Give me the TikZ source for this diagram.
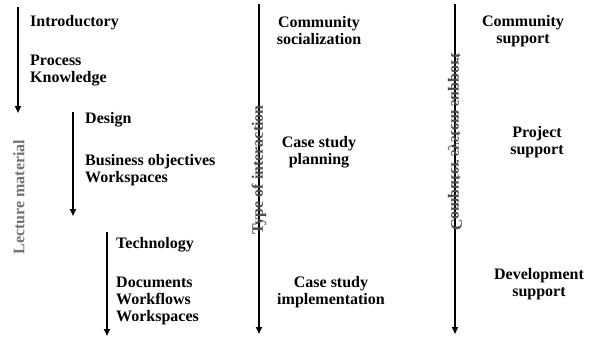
\documentclass[tikz,border=0pt]{standalone}
\usepackage{fontspec}
\setmainfont{Liberation Serif}
\usetikzlibrary{arrows.meta}

\tikzset{
  item/.style={font=\fontsize{16}{17}\selectfont\bfseries, inner sep=0pt, align=left, anchor=north west},
  cell/.style={font=\fontsize{16}{17}\selectfont\bfseries, inner sep=0pt, align=center, anchor=north},
  axis/.style={line width=2.4pt, -{Triangle[length=7pt,width=6pt]}},
  axislabel/.style={font=\fontsize{16}{17}\selectfont\bfseries, inner sep=0pt}
}

\begin{document}
\begin{tikzpicture}[x=1pt, y=-1pt]
\useasboundingbox (0,0) rectangle (595,338);

% lecture material, three stepped arrows
\foreach \name/\x/\ya/\yb in {la/18/7/113, lb/73/112/216, lc/107/232/336}{
  \coordinate (\name top) at (\x,\ya);
  \coordinate (\name end) at (\x,\yb);
  \draw[axis] (\name top) -- (\name end);
}
\node[item] (intro)  at (30,15)  {Introductory};
\node[item] (proc)   at (30,55)  {Process\\Knowledge};
\node[item] (design) at (85,112) {Design};
\node[item] (busobj) at (85,154) {Business objectives\\Workspaces};
\node[item] (tech)   at (116,237) {Technology};
\node[item] (docs)   at (116,277) {Documents\\Workflows\\Workspaces};
\node[axislabel, rotate=90, text=black!55] (lecture) at (19,197) {Lecture material};

% type of interaction
\coordinate (ttop) at (259,4);
\coordinate (tend) at (259,334);
\draw[axis] (ttop) -- (tend);
\node[axislabel, rotate=90, text=black!70] (type) at (259,170) {Type of interaction};
\node[cell] (soc)  at (319,16)  {Community\\socialization};
\node[cell] (plan) at (319,136) {Case study\\planning};
\node[cell] (impl) at (331,276) {Case study\\implementation};

% computer system support (label mirrored)
\coordinate (ctop) at (455,4);
\coordinate (cend) at (455,334);
\draw[axis] (ctop) -- (cend);
\begin{scope}[shift={(455,142)}, rotate=90, yscale=-1]
  \node[axislabel, transform shape, text=black!70] (comp) at (0,0) {Computer system support};
\end{scope}
\node[cell] (comsup)  at (523,15)  {Community\\support};
\node[cell] (projsup) at (537,126) {Project\\support};
\node[cell] (devsup)  at (539,268) {Development\\support};
\end{tikzpicture}
\end{document}
